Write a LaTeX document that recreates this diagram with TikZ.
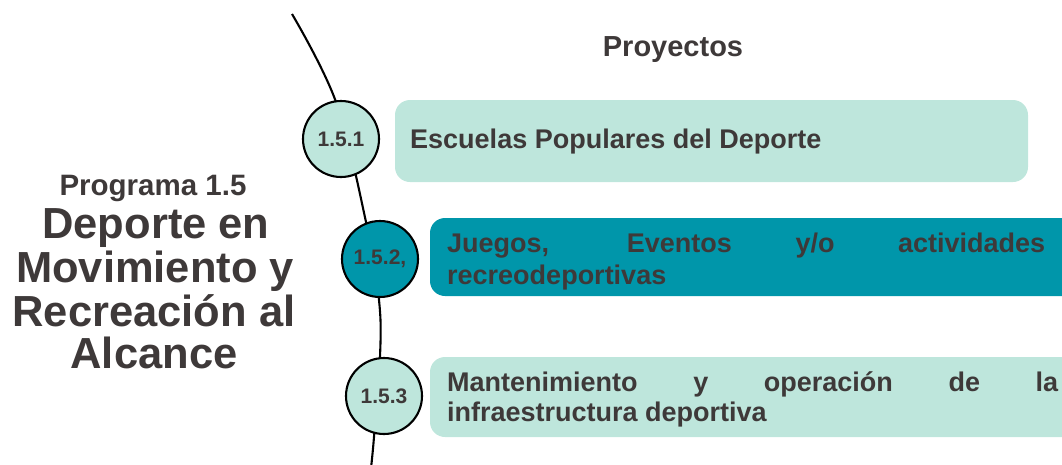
\documentclass[tikz,border=0pt]{standalone}
\usepackage{fontspec}
\setmainfont{Liberation Sans}
\definecolor{txt}{RGB}{62,57,57}
\definecolor{lightteal}{RGB}{190,230,220}
\definecolor{darkteal}{RGB}{0,150,170}
\begin{document}
\begin{tikzpicture}[x=1pt,y=-1pt,
  numcircle/.style={circle,draw=black,line width=2.1pt,minimum size=76pt,inner sep=0pt,font=\bfseries\fontsize{21}{24}\selectfont,text=txt},
  projbox/.style={rounded corners=15pt,draw=none},
  boxtext/.style={anchor=base west,inner sep=0pt,font=\bfseries\fontsize{27}{32}\selectfont,text=txt},
  titletext/.style={anchor=base,inner sep=0pt,font=\bfseries\fontsize{43.5}{44}\selectfont,text=txt}]
\useasboundingbox (0,0) rectangle (1062,464);
% spine
\draw[line width=2.1pt] plot[smooth,tension=0.6] coordinates {(292,14) (336,102) (366,222) (379,300) (380,357) (374,437) (371,468)};
% boxes
\fill[projbox,lightteal] (395,100) rectangle (1028,182);
\fill[projbox,darkteal] (430,218) rectangle (1080,296);
\fill[projbox,lightteal] (430,357) rectangle (1080,437);
% circles
\node[numcircle,fill=lightteal] (c1) at (341,139) {1.5.1};
\node[numcircle,fill=darkteal] (c2) at (380,259) {1.5.2,};
\node[numcircle,fill=lightteal] (c3) at (384,396) {1.5.3};
% box texts
\node[boxtext] (t1) at (410,148) {Escuelas Populares del Deporte};
\node[boxtext] (t2a) at (447,252) {\makebox[598pt][s]{Juegos, Eventos y/o actividades}};
\node[boxtext] (t2b) at (447,284) {recreodeportivas};
\node[boxtext] (t3a) at (447,391) {\makebox[611pt][s]{Mantenimiento y operación de la}};
\node[boxtext] (t3b) at (447,421) {infraestructura deportiva};
% header
\node[anchor=base,inner sep=0pt,font=\bfseries\fontsize{29}{32}\selectfont,text=txt] (proy) at (673,56) {Proyectos};
% left title
\node[anchor=base,inner sep=0pt,font=\bfseries\fontsize{29.5}{32}\selectfont,text=txt] (prog) at (153,195) {Programa 1.5};
\node[titletext] (l1) at (156,238) {Deporte en};
\node[titletext] (l2) at (155,282) {Movimiento y};
\node[titletext] (l3) at (154,326) {Recreación al};
\node[titletext] (l4) at (154,368) {Alcance};
\end{tikzpicture}
\end{document}
